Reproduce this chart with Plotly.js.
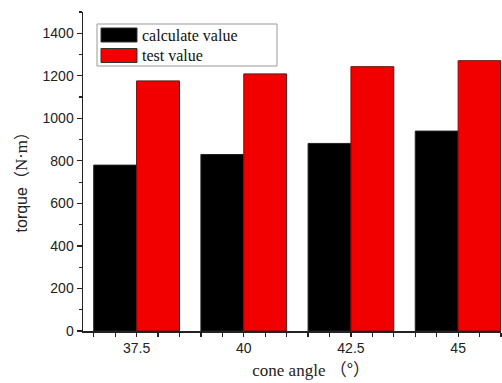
<!DOCTYPE html>
<html>
<head>
<meta charset="utf-8">
<script src="https://cdn.plot.ly/plotly-3.0.1.min.js"></script>
<style>html,body{margin:0;padding:0;background:#fff;}#chart{width:502px;height:383px;}</style>
</head>
<body>
<div id="chart"></div>
<script>
const coneAngles = [37.5, 40, 42.5, 45];
const tickLabels = ['37.5', '40', '42.5', '45'];
const calculateValues = [780, 830, 882, 940];
const testValues = [1176, 1209, 1243, 1271];
const seriesNames = ['calculate value', 'test value'];
const seriesColors = ['#000000', '#f20000'];

const traces = [
  {type: 'bar', x: coneAngles, y: calculateValues, name: seriesNames[0],
   width: 1, offset: -1, marker: {color: seriesColors[0], line: {color: '#222', width: 1}}},
  {type: 'bar', x: coneAngles, y: testValues, name: seriesNames[1],
   width: 1, offset: 0, marker: {color: seriesColors[1], line: {color: '#5a1a1a', width: 1}}}
];

const PW = 418, PH = 319, L = 83, T = 12;
const px = v => (v - L) / PW;
const py = v => (T + PH - v) / PH;
const rowH = 20.5;
const shapes = [
  {type: 'rect', xref: 'paper', yref: 'paper',
   x0: px(97), x1: px(277), y0: py(66), y1: py(24),
   line: {color: '#999', width: 1}, fillcolor: 'rgba(255,255,255,0)'}
];
const annotations = [];
seriesNames.forEach((n, i) => {
  const top = 28 + i * rowH;
  shapes.push({type: 'rect', xref: 'paper', yref: 'paper',
    x0: px(101), x1: px(137), y0: py(top + 14), y1: py(top),
    fillcolor: seriesColors[i], line: {color: '#333', width: 1}});
  annotations.push({xref: 'paper', yref: 'paper', x: px(140), y: py(top + 7),
    xanchor: 'left', yanchor: 'middle', showarrow: false, text: n,
    font: {family: 'Liberation Serif, Times New Roman, serif', size: 16, color: '#111'}});
});

const cjk = s => '<span style="font-family:Noto Sans CJK SC">' + s + '</span>';
const serif = s => '<span style="font-family:Liberation Serif;font-size:17px">' + s + '</span>';
const ZW = '\u200b', NB = '\u00a0';

const layout = {
  width: 502, height: 383,
  margin: {l: L, r: 1, t: T, b: 52},
  paper_bgcolor: '#fff', plot_bgcolor: '#fff',
  barmode: 'overlay',
  showlegend: false,
  font: {family: 'Liberation Sans, Arial, sans-serif', color: '#222'},
  xaxis: {
    range: [36.25, 46], tickvals: coneAngles, ticktext: tickLabels,
    ticks: 'outside', ticklen: 4, tickwidth: 1.2, tickcolor: '#222',
    minor: {tick0: 36.5, dtick: 0.5, ticks: 'outside', ticklen: 4, tickwidth: 1.2, tickcolor: '#222'},
    showline: true, linecolor: '#222', linewidth: 1.5, showgrid: false, zeroline: false,
    tickfont: {size: 14, color: '#222'},
    title: {text: ZW + NB.repeat(9) + 'cone angle ' + cjk('（°）'), standoff: 8,
      font: {family: 'Liberation Serif, Times New Roman, serif', size: 17, color: '#222'}}
  },
  yaxis: {
    range: [0, 1500], tick0: 0, dtick: 200,
    ticks: 'outside', ticklen: 5, tickwidth: 1.2, tickcolor: '#222',
    minor: {tick0: 0, dtick: 100, ticks: 'outside', ticklen: 3, tickwidth: 1.2, tickcolor: '#222'},
    showline: true, linecolor: '#222', linewidth: 1.5, showgrid: false, zeroline: false,
    tickfont: {size: 14, color: '#222'},
    title: {text: 'torque' + cjk('（') + serif('N·m') + cjk('）') + NB.repeat(3) + ZW, standoff: 11,
      font: {family: 'Liberation Sans, Arial, sans-serif', size: 16, color: '#222'}}
  },
  shapes: shapes,
  annotations: annotations
};

Plotly.newPlot('chart', traces, layout, {displayModeBar: false, staticPlot: true});
</script>
</body>
</html>
